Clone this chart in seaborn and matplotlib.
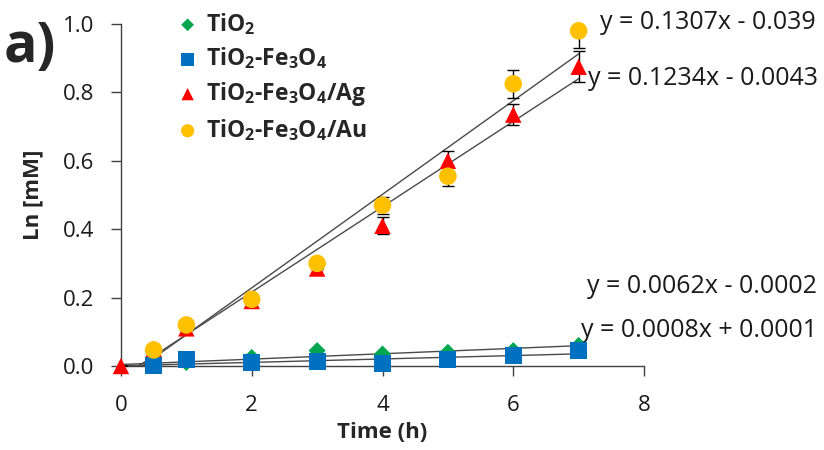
import numpy as np
import pandas as pd
import matplotlib
matplotlib.use("Agg")
import matplotlib.pyplot as plt
import seaborn as sns

# Time points (h)
time_h = [0, 0.5, 1, 2, 3, 4, 5, 6, 7]

# Ln [mM] values
tio2 = [0.0, 0.003, 0.010, 0.025, 0.045, 0.035, 0.040, 0.045, 0.060]
tio2_fe3o4 = [0.0, 0.0, 0.020, 0.010, 0.012, 0.008, 0.020, 0.032, 0.045]
tio2_fe3o4_ag = [0.0, 0.050, 0.110, 0.190, 0.285, 0.410, 0.600, 0.735, 0.875]
tio2_fe3o4_au = [0.0, 0.047, 0.120, 0.195, 0.300, 0.470, 0.555, 0.825, 0.980]

# error bars (only visible ones)
err_ag = [0, 0, 0, 0, 0, 0.025, 0.03, 0.03, 0.045]
err_au = [0, 0, 0, 0, 0, 0.025, 0.03, 0.04, 0.05]

series_names = ["TiO$_2$", "TiO$_2$-Fe$_3$O$_4$", "TiO$_2$-Fe$_3$O$_4$/Ag", "TiO$_2$-Fe$_3$O$_4$/Au"]
colors = ["#00A550", "#0070C0", "#FF0000", "#FFC000"]
markers = ["D", "s", "^", "o"]
marker_sizes = [75, 150, 140, 160]
marker_z = [4, 5, 6, 7]

equations = ["y = 0.1307x - 0.039", "y = 0.1234x - 0.0043",
             "y = 0.0062x - 0.0002", "y = 0.0008x + 0.0001"]
eq_pos = [(7.32, 1.005), (7.15, 0.84), (7.13, 0.232), (7.03, 0.105)]

df = pd.DataFrame({
    "Time": time_h * 4,
    "Ln": tio2 + tio2_fe3o4 + tio2_fe3o4_ag + tio2_fe3o4_au,
    "Sample": np.repeat(series_names, len(time_h)),
})

sns.set_style("ticks")
plt.rcParams["font.family"] = ["Open Sans", "DejaVu Sans"]
plt.rcParams["mathtext.fontset"] = "custom"
plt.rcParams["mathtext.rm"] = "Open Sans"
plt.rcParams["mathtext.bf"] = "Open Sans:bold"
plt.rcParams["mathtext.default"] = "bf"

fig = plt.figure(figsize=(8.24, 4.5), dpi=100)
ax = fig.add_axes([0.1468, 0.1867, 0.6348, 0.76])

# trend lines (fit on all points)
for name in series_names:
    sub = df[df["Sample"] == name]
    sns.regplot(data=sub, x="Time", y="Ln", scatter=False, ci=None, truncate=True,
                line_kws=dict(color="#4a4a4a", lw=1.0, zorder=2), ax=ax)

# error bars
ax.errorbar(time_h, tio2_fe3o4_ag, yerr=err_ag, fmt="none", ecolor="black",
            elinewidth=1, capsize=4, capthick=1, zorder=3)
ax.errorbar(time_h, tio2_fe3o4_au, yerr=err_au, fmt="none", ecolor="black",
            elinewidth=1, capsize=4, capthick=1, zorder=3)

for name, c, m, s, z in zip(series_names, colors, markers, marker_sizes, marker_z):
    sub = df[df["Sample"] == name]
    # at the origin only the Ag triangle shows in the original
    if name != series_names[2]:
        sub = sub[sub["Time"] > 0]
    sns.scatterplot(data=sub, x="Time", y="Ln", color=c, marker=m, s=s,
                    edgecolor="none", label=name, ax=ax, zorder=z, clip_on=False)

ax.set_xlim(0, 8)
ax.set_ylim(0, 1.0)
ax.set_xticks([0, 2, 4, 6, 8])
ax.set_yticks(np.arange(0, 1.01, 0.2))
ax.yaxis.set_major_formatter(matplotlib.ticker.FormatStrFormatter("%.1f"))
ax.tick_params(axis="both", labelsize=16, length=7, width=1, direction="out",
               color="#404040", labelcolor="#1a1a1a")
ax.tick_params(axis="y", pad=12)
ax.tick_params(axis="x", pad=14)
sns.despine(ax=ax)
for sp in ["left", "bottom"]:
    ax.spines[sp].set_linewidth(1)
    ax.spines[sp].set_color("#404040")

ax.set_xlabel("Time (h)", fontsize=16, fontweight="bold", labelpad=4)
ax.set_ylabel("Ln [mM]", fontsize=16, fontweight="bold", labelpad=14)

for txt, (x, y) in zip(equations, eq_pos):
    ax.text(x, y, txt, fontsize=18, ha="left", va="center", clip_on=False,
            color="#1a1a1a")

leg = ax.legend(loc="upper left", bbox_to_anchor=(0.088, 1.065), frameon=False,
                prop=dict(size=16.5, weight="bold"), handlelength=1.0,
                handletextpad=0.3, labelspacing=0.38, borderaxespad=0,
                markerscale=0.75)

fig.text(0.004, 0.862, "a)", fontsize=40, fontweight="bold")

fig.savefig("out.png", dpi=100)
